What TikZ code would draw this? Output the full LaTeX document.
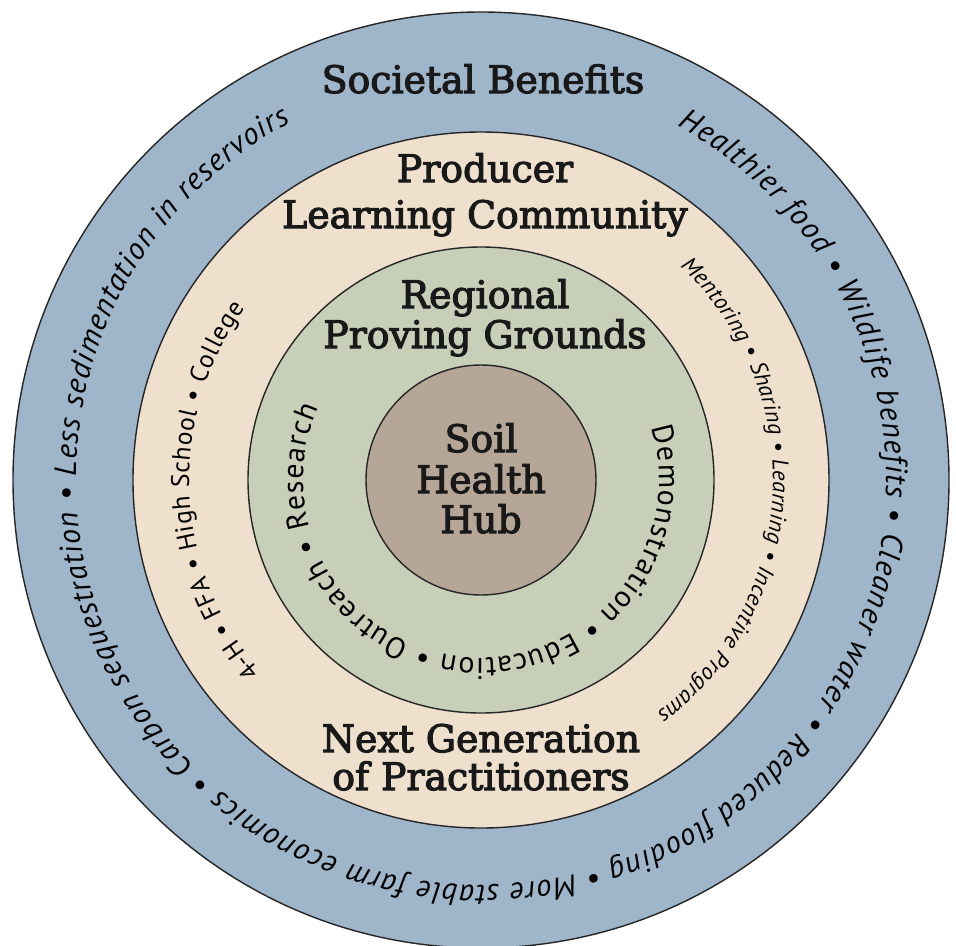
\documentclass[tikz,border=0pt]{standalone}
\usepackage{fontspec}
\setmainfont{DejaVu Serif}[FakeBold=3]
\setsansfont{PT Sans}
\usetikzlibrary{decorations.text}

\definecolor{societyblue}{RGB}{158,181,202}
\definecolor{producertan}{RGB}{238,224,205}
\definecolor{provinggreen}{RGB}{199,207,185}
\definecolor{hubbrown}{RGB}{182,166,152}

\begin{document}
\begin{tikzpicture}[ring/.style={circle, draw=black!85, line width=0.8pt, inner sep=0pt},
    heading/.style={font=\fontsize{21.5}{24}\selectfont, text=black!90, inner sep=0pt, anchor=base},
    ringtext/.style={decorate, decoration={text along path, text align={fit to path}, text={#1}}}]

        \useasboundingbox (-9.62,-9.3) rectangle (9.5,9.6);

        % Rings
        \node[ring, fill=societyblue, minimum size=18.72cm] (society) at (0,0) {};
        \node[ring, fill=producertan, minimum size=13.92cm] (producers) at (0,0) {};
        \node[ring, fill=provinggreen, minimum size=9.32cm] (proving) at (0,0) {};
        \node[ring, fill=hubbrown, minimum size=4.6cm] (hub) at (0,0) {};

        % Headings
        \node[heading] (societal) at (0.04,7.74) {Societal Benefits};
        \node[heading] (producer) at (0.08,5.96) {Producer};
        \node[heading] (learning) at (0.08,5.04) {Learning Community};
        \node[heading] (regional) at (0.08,3.44) {Regional};
        \node[heading] (grounds) at (0.08,2.64) {Proving Grounds};
        \node[heading] (soil) at (0,0.56) {Soil};
        \node[heading] (health) at (0,-0.26) {Health};
        \node[heading] (hubname) at (0,-1.06) {Hub};
        \node[heading] (nextgen) at (0,-5.44) {Next Generation};
        \node[heading] (practitioners) at (0,-6.2) {of Practitioners};

        % Ring texts, clockwise
        \path[ringtext={|\sffamily\itshape\fontsize{17.5}{20}\selectfont|Healthier food • Wildlife benefits • Cleaner water • Reduced flooding • More stable farm economics • Carbon sequestration • Less sedimentation in reservoirs}]
            (61:8.1) arc[start angle=61, end angle=-242, radius=8.1];
        \path[ringtext={|\sffamily\fontsize{14.5}{17}\selectfont|4-H • FFA • High School • College}]
            (221:5.84) arc[start angle=221, end angle=144, radius=5.84];
        \path[ringtext={|\sffamily\itshape\fontsize{13}{15}\selectfont|Mentoring • Sharing • Learning • Incentive Programs}]
            (47:5.84) arc[start angle=47, end angle=-53, radius=5.84];
        \path[ringtext={|\sffamily\fontsize{17}{20}\selectfont|Demonstration • Education • Outreach • Research}]
            (17:3.56) arc[start angle=17, end angle=-204, radius=3.56];

    \end{tikzpicture}
\end{document}
